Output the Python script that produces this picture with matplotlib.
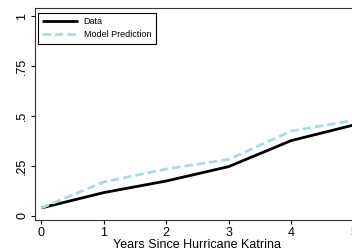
import matplotlib
matplotlib.use("Agg")
import matplotlib.pyplot as plt

plt.rcParams['font.family'] = ['Liberation Sans', 'DejaVu Sans']

years = [0, 1, 2, 3, 4, 5]
data_vals = [0.04, 0.117, 0.175, 0.247, 0.377, 0.455]
model_vals = [0.04, 0.17, 0.235, 0.283, 0.425, 0.478]
ytick_vals = [0, 0.25, 0.5, 0.75, 1]
ytick_labels = ["0", ".25", ".5", ".75", "1"]
xlabel = "Years Since Hurricane Katrina"

fig = plt.figure(figsize=(3.52, 2.52), dpi=100)
ax = fig.add_axes([0.0994, 0.127, 0.923, 0.841])
ax.plot(years, data_vals, color='black', lw=2.0, label='Data', solid_capstyle='butt')
ax.plot(years, model_vals, color='#add8e6', lw=2.0, ls=(0, (3, 1.5)), label='Model Prediction')
ax.set_xlim(-0.1, 5.1)
ax.set_ylim(-0.02, 1.04)
ax.set_xticks(years)
ax.set_yticks(ytick_vals)
ax.set_yticklabels(ytick_labels, rotation=90, va='center')
ax.tick_params(labelsize=9, length=3, width=0.8, pad=2)
ax.set_xlabel(xlabel, fontsize=9, labelpad=0)
for s in ax.spines.values():
    s.set_linewidth(0.8)
    s.set_color('#333333')
leg = ax.legend(loc='upper left', bbox_to_anchor=(0.009, 0.978), fontsize=6.5,
                frameon=True, fancybox=False, edgecolor='black', framealpha=1,
                borderaxespad=0, handlelength=3.9, handletextpad=0.67,
                borderpad=0.5, labelspacing=0.45)
leg.get_frame().set_linewidth(0.8)
fig.savefig("out.png", dpi=100)
